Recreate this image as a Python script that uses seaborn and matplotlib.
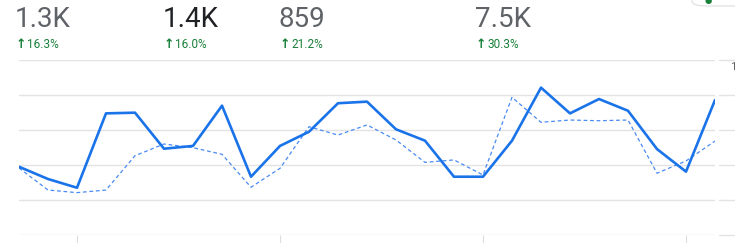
import matplotlib
matplotlib.use("Agg")
import matplotlib.pyplot as plt
from matplotlib.patches import FancyBboxPatch
import seaborn as sns
import pandas as pd
import numpy as np

# ---- data ----
days = list(range(25))
current = [39.0, 32.0, 27.0, 69.5, 69.9, 49.3, 50.9, 73.9, 33.3, 50.9, 59.0, 75.3, 76.2,
           60.4, 53.9, 33.3, 33.3, 53.9, 84.2, 69.5, 77.7, 71.0, 49.1, 36.2, 77.1]
previous = [38.3, 25.7, 24.2, 25.7, 45.3, 52.0, 49.9, 46.1, 27.3, 38.1, 61.9, 57.1, 62.9,
            54.3, 41.5, 42.9, 34.3, 78.7, 64.4, 65.7, 65.3, 65.7, 35.3, 42.3, 53.7]
tick_pos = [2, 9, 16, 23]
tick_labels = ["22", "29", "06", "13"]
kpi_values = ["1.3K", "1.4K", "859", "7.5K"]
kpi_changes = ["16.3%", "16.0%", "21.2%", "30.3%"]
kpi_x_px = [15, 163, 279, 475]

df = pd.concat([
    pd.DataFrame({"day": days, "value": current, "period": "current"}),
    pd.DataFrame({"day": days, "value": previous, "period": "previous"}),
])

W, H = 735, 243
sns.set_theme(style="white")
plt.rcParams["font.family"] = ["Roboto", "DejaVu Sans"]
fig = plt.figure(figsize=(W / 100, H / 100), dpi=100)
ax = fig.add_axes([19 / W, (H - 235) / H, (715 - 19) / W, (235 - 60) / H])

sns.lineplot(data=df[df.period == "previous"], x="day", y="value", ax=ax,
             color="#4a8af4", linewidth=0.9, linestyle=(0, (3, 2.2)), legend=False)
sns.lineplot(data=df[df.period == "current"], x="day", y="value", ax=ax,
             color="#1a73e8", linewidth=1.9, legend=False)

ax.set_xlim(0, 24)
ax.set_ylim(0, 100)
ax.set_yticks([0, 20, 40, 60, 80, 100])
ax.set_yticklabels([])
ax.tick_params(axis="y", length=0, left=False)
ax.grid(axis="y", color="#e3e3e3", linewidth=1)
ax.set_axisbelow(True)
for s in ax.spines.values():
    s.set_visible(False)
ax.set_xticks(tick_pos)
ax.set_xticklabels(tick_labels, ha="left", fontsize=9, color="#5f6368")
ax.tick_params(axis="x", bottom=True, length=6, width=0.8, color="#dadce0", pad=2,
               direction="out")
ax.set_xlabel("")
ax.set_ylabel("")

# right-side gridline stubs
for yv in [0, 20, 40, 60, 80, 100]:
    ax.plot([(719 - 19) / 696, (735 - 19) / 696], [yv / 100] * 2, transform=ax.transAxes,
            color="#e3e3e3", linewidth=1, clip_on=False)
fig.text(730 / W, 1 - 67 / H, "1", fontsize=8, color="#5f6368", va="center", ha="left")

# KPI header
for i, (v, c, xp) in enumerate(zip(kpi_values, kpi_changes, kpi_x_px)):
    col = "#202124" if i == 1 else "#5f6368"
    fig.text(xp / W, 1 - 27 / H, v, fontsize=20, color=col, va="baseline", ha="left")
    fig.text((xp + 1) / W, 1 - 44 / H, "\u2191", fontsize=9, color="#188038",
             va="center", ha="left", family="DejaVu Sans", fontweight="bold")
    fig.text((xp + 12) / W, 1 - 44 / H, c, fontsize=8.5, color="#188038", va="center", ha="left")

# top-right clipped chip
chip = FancyBboxPatch((692 / W, 1 - 6 / H), 60 / W, 20 / H,
                      boxstyle="round,pad=0,rounding_size=0.02", transform=fig.transFigure,
                      facecolor="white", edgecolor="#dadce0", linewidth=0.8)
fig.patches.append(chip)
fig.text(708 / W, 1 - 1 / H, "\u25cf", fontsize=6, color="#188038", va="center", ha="center",
         family="DejaVu Sans")

fig.savefig("out.png", dpi=100)
